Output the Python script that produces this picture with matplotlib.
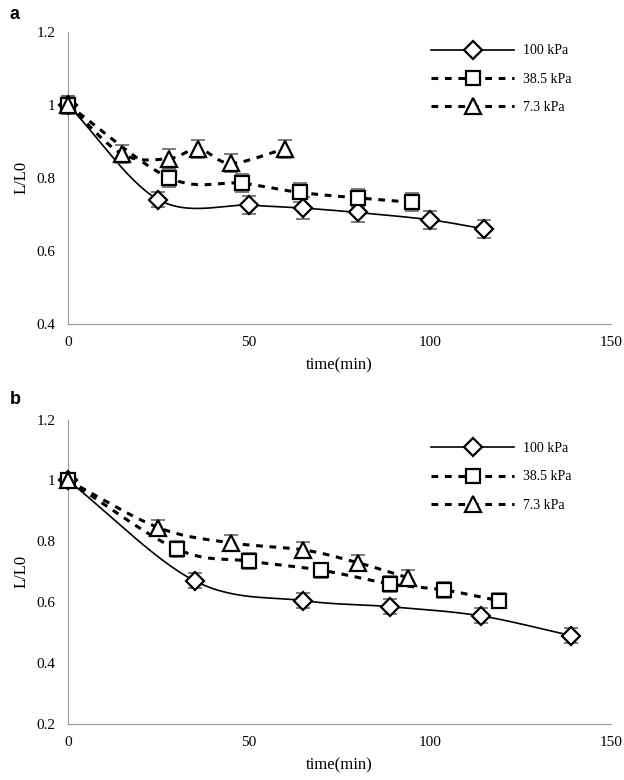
import numpy as np
import matplotlib.pyplot as plt
from matplotlib.lines import Line2D

# panel a
a_t100 = [0, 25, 50, 65, 80, 100, 115]
a_v100 = [1.0, 0.74, 0.725, 0.717, 0.705, 0.685, 0.66]
a_e100 = [0.025, 0.02, 0.025, 0.03, 0.025, 0.025, 0.025]
a_t38 = [0, 28, 48, 64, 80, 95]
a_v38 = [1.0, 0.8, 0.785, 0.76, 0.745, 0.733]
a_e38 = [0.025, 0.025, 0.025, 0.025, 0.025, 0.025]
a_t7 = [0, 15, 28, 36, 45, 60]
a_v7 = [1.0, 0.865, 0.853, 0.88, 0.84, 0.88]
a_e7 = [0.025, 0.025, 0.025, 0.025, 0.025, 0.025]

# panel b
b_t100 = [0, 35, 65, 89, 114, 139]
b_v100 = [1.0, 0.67, 0.605, 0.585, 0.555, 0.49]
b_e100 = [0.025, 0.025, 0.025, 0.025, 0.025, 0.025]
b_t38 = [0, 30, 50, 70, 89, 104, 119]
b_v38 = [1.0, 0.775, 0.735, 0.705, 0.66, 0.64, 0.605]
b_e38 = [0.025, 0.025, 0.025, 0.025, 0.025, 0.025, 0.025]
b_t7 = [0, 25, 45, 65, 80, 94]
b_v7 = [1.0, 0.845, 0.795, 0.772, 0.73, 0.68]
b_e7 = [0.025, 0.025, 0.025, 0.025, 0.025, 0.025]

labels = ['100 kPa', '38.5 kPa', '7.3 kPa']
markers = ['D', 's', '^']
msizes = [9, 10, 11]

plt.rcParams['font.family'] = ['Liberation Serif', 'DejaVu Serif']


def smooth(x, y, n=30):
    # catmull-rom through the measured points, like the spreadsheet "smoothed line"
    x = np.asarray(x, float)
    y = np.asarray(y, float)
    px = np.concatenate([[2 * x[0] - x[1]], x, [2 * x[-1] - x[-2]]])
    py = np.concatenate([[2 * y[0] - y[1]], y, [2 * y[-1] - y[-2]]])
    xs, ys = [], []
    s = np.linspace(0, 1, n)
    for i in range(1, len(px) - 2):
        for p, out in ((px, xs), (py, ys)):
            p0, p1, p2, p3 = p[i - 1], p[i], p[i + 1], p[i + 2]
            out.extend(0.5 * (2 * p1 + (-p0 + p2) * s
                              + (2 * p0 - 5 * p1 + 4 * p2 - p3) * s ** 2
                              + (-p0 + 3 * p1 - 3 * p2 + p3) * s ** 3))
    return xs, ys


def styles(i):
    if i == 0:
        return dict(color='black', lw=1.2, linestyle='-')
    return dict(color='black', lw=2.2, linestyle=(0, (2.2, 2.2)))


def panel(ax, series, ylim, yticks, leg_y):
    for i, (t, v, e) in enumerate(series):
        xs, ys = smooth(t, v)
        ax.plot(xs, ys, zorder=2, **styles(i))
        eb = ax.errorbar(t, v, yerr=e, fmt='none', ecolor='0.4', elinewidth=1,
                         capsize=5, capthick=1.2, zorder=3)
        for art in eb.lines[1] + eb.lines[2]:
            art.set_clip_on(False)
        ax.plot(t, v, linestyle='none', marker=markers[i], ms=msizes[i],
                mfc='white', mec='black', mew=1.6, zorder=4, clip_on=False)
    ax.set_xlim(0, 150)
    ax.set_ylim(*ylim)
    ax.set_xticks([0, 50, 100, 150])
    ax.set_yticks(yticks)
    ax.set_yticklabels(['{:g}'.format(v) for v in yticks])
    for s in ['top', 'right']:
        ax.spines[s].set_visible(False)
    for s in ['left', 'bottom']:
        ax.spines[s].set_color('0.6')
    ax.tick_params(length=0, labelsize=11, pad=9)
    ax.set_xlabel('time(min)', fontsize=12, labelpad=6)
    ax.set_ylabel('L/L0', fontsize=12, labelpad=5)
    handles = [Line2D([], [], marker=markers[i], ms=msizes[i], mfc='white',
                      mec='black', mew=1.6, **styles(i)) for i in range(3)]
    ax.legend(handles, labels, loc='upper right', bbox_to_anchor=(0.95, leg_y),
              frameon=False, fontsize=10, handlelength=6, numpoints=1,
              labelspacing=1.1, handletextpad=0.6)


fig = plt.figure(figsize=(6.24, 7.8), dpi=100)
ax1 = fig.add_axes([0.109, 0.585, 0.87, 0.374])
ax2 = fig.add_axes([0.109, 0.072, 0.87, 0.39])

panel(ax1, [(a_t100, a_v100, a_e100), (a_t38, a_v38, a_e38), (a_t7, a_v7, a_e7)],
      (0.4, 1.2), [0.4, 0.6, 0.8, 1.0, 1.2], 1.0)
panel(ax2, [(b_t100, b_v100, b_e100), (b_t38, b_v38, b_e38), (b_t7, b_v7, b_e7)],
      (0.2, 1.2), [0.2, 0.4, 0.6, 0.8, 1.0, 1.2], 0.967)

fig.text(0.016, 0.982, 'a', fontsize=13, fontweight='bold', family='Liberation Sans', va='center')
fig.text(0.016, 0.488, 'b', fontsize=13, fontweight='bold', family='Liberation Sans', va='center')

fig.savefig('out.png', dpi=100)
